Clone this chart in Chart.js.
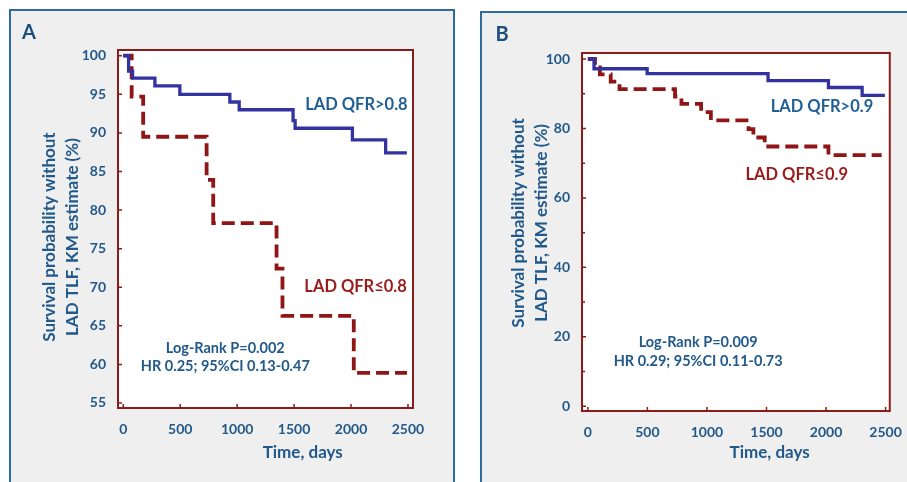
<!DOCTYPE html>
<html>
<head>
<meta charset="utf-8">
<script src="https://cdn.jsdelivr.net/npm/chart.js@4/dist/chart.umd.min.js"></script>
<style>
  html, body { margin: 0; padding: 0; background: #ffffff; width: 907px; height: 482px; overflow: hidden; }
  .panel { position: absolute; background: #efefef; border: 2px solid #2f6b9d; box-sizing: border-box; }
  #panelA { left: 9px; top: 9px; width: 446px; height: 490px; }
  #panelB { left: 480px; top: 11px; width: 440px; height: 490px; }
  canvas { position: absolute; }
  #cA { left: 10px; top: 10px; }
  #cB { left: 481px; top: 12px; }
</style>
</head>
<body>
<div class="panel" id="panelA"></div>
<div class="panel" id="panelB"></div>
<canvas id="cA" width="444" height="472" style="width:444px;height:472px"></canvas>
<canvas id="cB" width="426" height="470" style="width:426px;height:470px"></canvas>
<script>
// ---------- data ----------
const xTicks = [0, 500, 1000, 1500, 2000, 2500];
const yTicksA = [55, 60, 65, 70, 75, 80, 85, 90, 95, 100];
const yTicksB = [0, 20, 40, 60, 80, 100];
const yMinorB = [10, 30, 50, 70, 90];

// Panel A: LAD QFR>0.8 (blue) and LAD QFR<=0.8 (red)
const timeAHigh = [0, 47, 82, 278, 497, 936, 1018, 1491, 1509, 2012, 2304, 2490];
const survAHigh = [100, 98.0, 97.1, 96.1, 95.0, 94.0, 93.0, 91.6, 90.6, 89.1, 87.4, 87.4];
const timeALow  = [0, 74, 175, 732, 790, 1346, 1398, 2024, 2491];
const survALow  = [100, 94.7, 89.5, 83.9, 78.3, 72.4, 66.3, 58.9, 58.9];

// Panel B: LAD QFR>0.9 (blue) and LAD QFR<=0.9 (red)
const timeBHigh = [0, 52, 498, 1513, 2020, 2303, 2494];
const survBHigh = [100, 97.2, 95.8, 93.8, 91.8, 89.5, 89.5];
const timeBLow  = [0, 60, 101, 192, 266, 732, 786, 951, 1033, 1349, 1390, 1485, 2020, 2467];
const survBLow  = [100, 97.6, 95.6, 93.5, 91.3, 89.2, 87.1, 84.7, 82.3, 79.8, 77.4, 74.8, 72.3, 72.3];

const labelsA = ['LAD QFR>0.8', 'LAD QFR\u22640.8'];
const labelsB = ['LAD QFR>0.9', 'LAD QFR\u22640.9'];
const statsA = ['Log-Rank P=0.002', 'HR 0.25; 95%CI 0.13-0.47'];
const statsB = ['Log-Rank P=0.009', 'HR 0.29; 95%CI 0.11-0.73'];
const yTitle = ['Survival probability without', 'LAD TLF, KM estimate (%)'];
const xTitle = 'Time, days';

// ---------- styles ----------
const FONT = 'Lato, "Open Sans", sans-serif';
const TXT = '#22598b';
const BLUE_LINE = '#3333a0';
const RED_LINE = '#8e1616';
const RED_TXT = '#9a1b1b';
const FRAME = '#8b1c1c';

function pts(t, s) { return t.map((v, i) => ({ x: v, y: s[i] })); }

const deco = {
  id: 'deco',
  beforeDraw(chart) {
    const { ctx, chartArea: a } = chart;
    ctx.save();
    ctx.fillStyle = '#ffffff';
    ctx.fillRect(a.left, a.top, a.right - a.left, a.bottom - a.top);
    ctx.restore();
  },
  afterDraw(chart, args, o) {
    const { ctx, chartArea: a, scales: { x, y } } = chart;
    ctx.save();
    // frame
    ctx.strokeStyle = FRAME;
    ctx.lineWidth = 2;
    ctx.strokeRect(a.left, a.top, a.right - a.left, a.bottom - a.top);
    // inward ticks
    ctx.lineWidth = 1.5;
    ctx.beginPath();
    o.xTicks.forEach(v => { const px = x.getPixelForValue(v); ctx.moveTo(px, a.bottom); ctx.lineTo(px, a.bottom - 4); });
    o.yTicks.forEach(v => { const py = y.getPixelForValue(v); ctx.moveTo(a.left, py); ctx.lineTo(a.left + 4, py); });
    (o.yMinor || []).forEach(v => { const py = y.getPixelForValue(v); ctx.moveTo(a.left, py); ctx.lineTo(a.left + 3, py); });
    ctx.stroke();

    ctx.textBaseline = 'middle';
    // panel letter
    ctx.fillStyle = '#1d4f7e';
    ctx.font = 'bold 20px ' + FONT;
    ctx.textAlign = 'center';
    ctx.fillText(o.letter, a.left - o.letterDx, a.top - o.letterDy);

    // series labels
    ctx.font = 'bold 16.5px ' + FONT;
    ctx.textAlign = 'right';
    ctx.fillStyle = '#1f5f96';
    ctx.fillText(o.labels[0], x.getPixelForValue(o.labPos[0][0]), y.getPixelForValue(o.labPos[0][1]));
    ctx.fillStyle = RED_TXT;
    ctx.fillText(o.labels[1], x.getPixelForValue(o.labPos[1][0]), y.getPixelForValue(o.labPos[1][1]));

    // stats
    ctx.font = 'bold 14.5px ' + FONT;
    ctx.textAlign = 'center';
    ctx.fillStyle = TXT;
    ctx.fillText(o.stats[0], x.getPixelForValue(o.statPos[0]), y.getPixelForValue(o.statPos[1]));
    ctx.fillText(o.stats[1], x.getPixelForValue(o.statPos[0]), y.getPixelForValue(o.statPos[2]));

    // x title
    ctx.font = 'bold 17px ' + FONT;
    ctx.fillText(xTitle, x.getPixelForValue(o.xTitlePos), a.bottom + o.xTitleDy);

    // y title
    ctx.translate(a.left, y.getPixelForValue(o.yTitleY));
    ctx.rotate(-Math.PI / 2);
    ctx.fillText(yTitle[0], 0, -o.yTitleDx[0]);
    ctx.fillText(yTitle[1], 0, -o.yTitleDx[1]);
    ctx.restore();
  }
};

function makeChart(id, cfg) {
  return new Chart(document.getElementById(id), {
    type: 'line',
    data: {
      datasets: [
        { data: pts(cfg.tHigh, cfg.sHigh), borderColor: BLUE_LINE, borderWidth: 3.3, stepped: 'before', pointRadius: 0, fill: false },
        { data: pts(cfg.tLow, cfg.sLow), borderColor: RED_LINE, borderWidth: 3.8, borderDash: [13, 6], stepped: 'before', pointRadius: 0, fill: false }
      ]
    },
    options: {
      responsive: false,
      animation: false,
      events: [],
      layout: { padding: cfg.pad },
      plugins: { legend: { display: false }, tooltip: { enabled: false }, deco: cfg.deco },
      scales: {
        x: {
          type: 'linear', min: cfg.xMin, max: cfg.xMax,
          grid: { display: false }, border: { display: false },
          afterFit: s => { s.height = cfg.xH; },
          afterBuildTicks: s => { s.ticks = xTicks.map(v => ({ value: v })); },
          ticks: { color: TXT, font: { family: FONT, size: 14, weight: 'bold' }, padding: 5, autoSkip: false, maxRotation: 0, callback: v => String(v) }
        },
        y: {
          type: 'linear', min: cfg.yMin, max: cfg.yMax,
          grid: { display: false }, border: { display: false },
          afterFit: s => { s.width = cfg.yW; },
          afterBuildTicks: s => { s.ticks = cfg.yTicks.map(v => ({ value: v })); },
          ticks: { color: TXT, font: { family: FONT, size: 14, weight: 'bold' }, padding: 4, autoSkip: false, callback: v => String(v) }
        }
      }
    },
    plugins: [deco]
  });
}

makeChart('cA', {
  tHigh: timeAHigh, sHigh: survAHigh, tLow: timeALow, sLow: survALow,
  xMin: -46, xMax: 2544, yMin: 54.35, yMax: 100.74, yTicks: yTicksA,
  pad: { top: 40, right: 41, left: 0, bottom: 0 }, yW: 108, xH: 74,
  deco: {
    xTicks: xTicks, yTicks: yTicksA, letter: 'A', letterDx: 89, letterDy: 17.5,
    labels: labelsA, labPos: [[2497, 93.6], [2490, 70.1]],
    stats: statsA, statPos: [896, 62.1, 59.7],
    xTitlePos: 1576, xTitleDy: 45, yTitleY: 76.5, yTitleDx: [68, 45]
  }
});

makeChart('cB', {
  tHigh: timeBHigh, sHigh: survBHigh, tLow: timeBLow, sLow: survBLow,
  xMin: -49, xMax: 2535, yMin: -1.36, yMax: 101.73, yTicks: yTicksB,
  pad: { top: 41, right: 11, left: 0, bottom: 0 }, yW: 101, xH: 71,
  deco: {
    xTicks: xTicks, yTicks: yTicksB, yMinor: yMinorB, letter: 'B', letterDx: 80, letterDy: 18.3,
    labels: labelsB, labPos: [[2396, 86.2], [2184, 66.6]],
    stats: statsB, statPos: [926, 18.3, 12.8],
    xTitlePos: 1526, xTitleDy: 42, yTitleY: 52.8, yTitleDx: [63.4, 40]
  }
});
</script>
</body>
</html>
